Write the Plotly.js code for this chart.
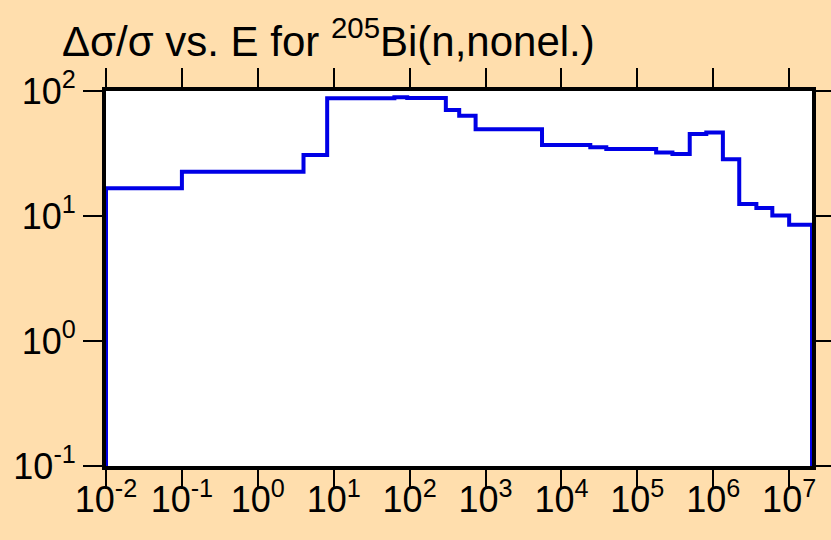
<!DOCTYPE html>
<html>
<head>
<meta charset="utf-8">
<script src="https://cdn.plot.ly/plotly-3.0.1.min.js"></script>
<style>html,body{margin:0;padding:0;background:#FFDEAD;}</style>
</head>
<body>
<div id="chart" style="width:831px;height:540px;"></div>
<script>
// Energy group boundaries (eV) and relative uncertainty (%) per group
const energyEdges = [0.01, 0.1, 4, 8.2, 63, 93, 300, 450, 740, 5550, 2.4e4, 3.9e4, 1.77e5, 2.9e5, 4.9e5, 8.1e5, 1.34e6, 2.2e6, 3.7e6, 6e6, 1e7, 2e7];
const uncertainty = [16.7, 22.6, 30.8, 87.5, 89.0, 88.0, 70.5, 63.5, 49.4, 37.0, 35.4, 34.4, 32.2, 31.3, 45.3, 46.5, 28.5, 12.5, 11.6, 10.1, 8.5];
const yFloor = 0.1;

const xTickVals = [1e-2, 1e-1, 1e0, 1e1, 1e2, 1e3, 1e4, 1e5, 1e6, 1e7];
const xTickText = ['10<sup>-2</sup>','10<sup>-1</sup>','10<sup>0</sup>','10<sup>1</sup>','10<sup>2</sup>','10<sup>3</sup>','10<sup>4</sup>','10<sup>5</sup>','10<sup>6</sup>','10<sup>7</sup>'];
const yTickVals = [1e-1, 1e0, 1e1, 1e2];
const yTickText = ['10<sup>-1</sup>','10<sup>0</sup>','10<sup>1</sup>','10<sup>2</sup>'];

// Build step outline from group data
const xs = [energyEdges[0]];
const ys = [yFloor];
for (let i = 0; i < uncertainty.length; i++) {
  xs.push(energyEdges[i]);
  ys.push(uncertainty[i]);
}
xs.push(energyEdges[energyEdges.length - 1]);
ys.push(uncertainty[uncertainty.length - 1]);
xs.push(energyEdges[energyEdges.length - 1]);
ys.push(yFloor);

const FAM = 'Liberation Sans, Arial, sans-serif';

const trace = {
  x: xs, y: ys, type: 'scatter', mode: 'lines',
  line: {shape: 'hv', color: '#0000E6', width: 4},
  hoverinfo: 'skip'
};

const layout = {
  width: 831, height: 540,
  paper_bgcolor: '#FFDEAD', plot_bgcolor: '#FFFFFF',
  margin: {l: 106, r: 19, t: 91, b: 74},
  showlegend: false,
  font: {family: FAM, size: 34, color: '#000'},
  title: {
    text: 'Δσ/σ vs. E for <sup>205</sup>Bi(n,nonel.)',
    font: {family: FAM, size: 42, color: '#000'},
    x: 62/831, xanchor: 'left', xref: 'container',
    y: 1 - 41/540, yanchor: 'middle', yref: 'container'
  },
  xaxis: {
    type: 'log', showgrid: false, zeroline: false,
    showline: true, linecolor: '#000', linewidth: 4, mirror: 'allticks',
    ticks: 'outside', ticklen: 19, tickwidth: 2, tickcolor: '#000',
    tickfont: {family: FAM, size: 36, color: '#000'},
    ticklabelstandoff: -20,
    layer: 'below traces',
    range: [Math.log10(energyEdges[0]), Math.log10(energyEdges[energyEdges.length-1])],
    tickmode: 'array', tickvals: xTickVals, ticktext: xTickText, tickangle: 0
  },
  yaxis: {
    type: 'log', showgrid: false, zeroline: false,
    showline: true, linecolor: '#000', linewidth: 4, mirror: 'allticks',
    ticks: 'outside', ticklen: 19, tickwidth: 2, tickcolor: '#000',
    tickfont: {family: FAM, size: 36, color: '#000'},
    layer: 'below traces',
    range: [-1, 2],
    tickmode: 'array', tickvals: yTickVals, ticktext: yTickText
  }
};

Plotly.newPlot('chart', [trace], layout, {displayModeBar: false, staticPlot: true});
</script>
</body>
</html>
